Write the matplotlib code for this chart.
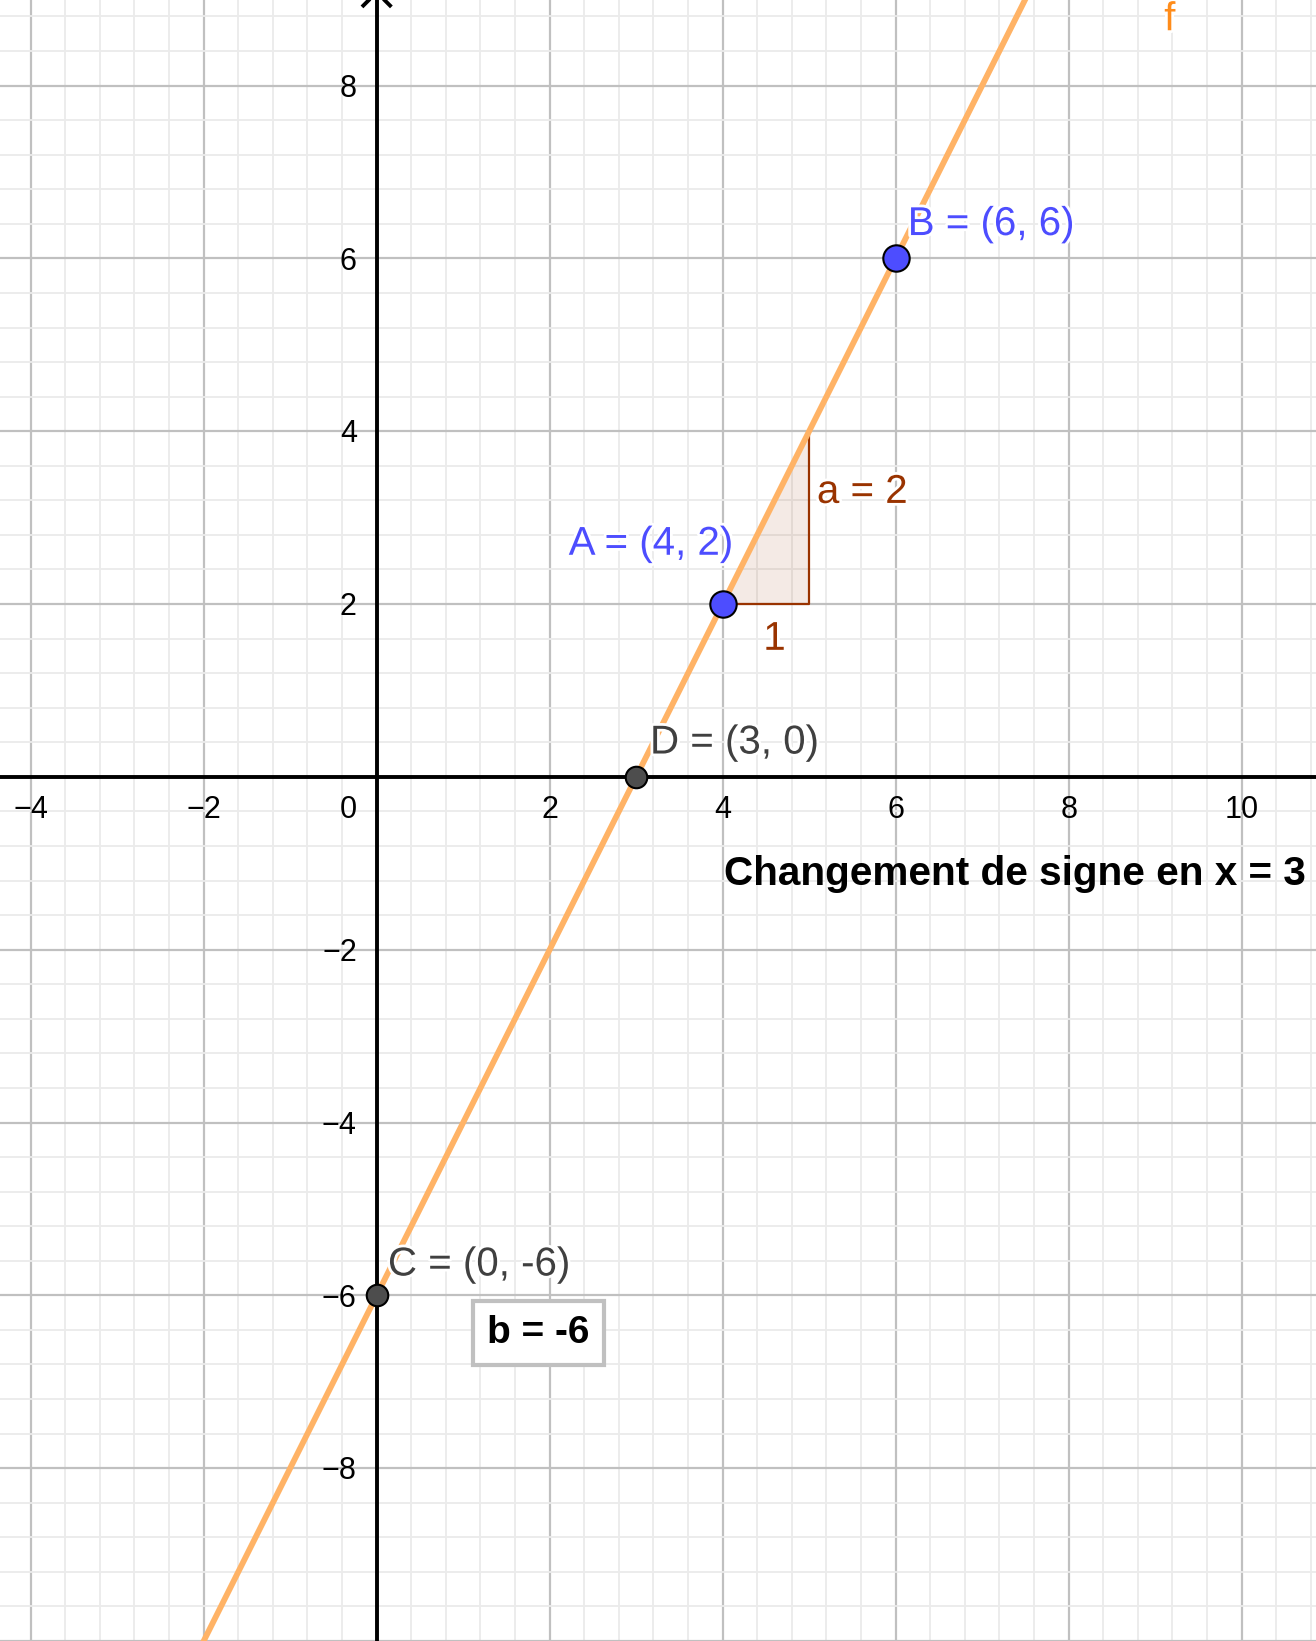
import numpy as np
import matplotlib
matplotlib.use("Agg")
import matplotlib.pyplot as plt
import matplotlib.patheffects as pe
from matplotlib.ticker import MultipleLocator

plt.rcParams['font.family'] = ['Liberation Sans', 'DejaVu Sans']

# function f(x) = a*x + b
slope_a = 2
intercept_b = -6

# named points
point_names = ["A", "B", "C", "D"]
point_x = [4, 6, 0, 3]
point_y = [2, 6, -6, 0]

# tick labels
x_ticks = [-4, -2, 0, 2, 4, 6, 8, 10]
y_ticks = [-8, -6, -4, -2, 2, 4, 6, 8]

# view window
x_min, x_max = -4.355, 10.86
y_min, y_max = -10.0, 8.99

blue = '#4D4DFF'
gray_pt = '#4D4D4D'
brown = '#993300'
orange_line = '#FFB366'
orange_txt = '#FF8C1A'

fig = plt.figure(figsize=(13.16, 16.41), dpi=100)
ax = fig.add_axes([0, 0, 1, 1])
ax.set_xlim(x_min, x_max)
ax.set_ylim(y_min, y_max)
ax.set_aspect('auto')

# grid
ax.xaxis.set_major_locator(MultipleLocator(2))
ax.yaxis.set_major_locator(MultipleLocator(2))
ax.xaxis.set_minor_locator(MultipleLocator(0.4))
ax.yaxis.set_minor_locator(MultipleLocator(0.4))
ax.grid(which='minor', color='#EBEBEB', linewidth=1.3, zorder=0)
ax.grid(which='major', color='#C0C0C0', linewidth=1.6, zorder=0)
ax.tick_params(which='both', length=0, labelbottom=False, labelleft=False)
ax.set_axisbelow(True)
for s in ax.spines.values():
    s.set_visible(False)

# axes
ax.axhline(0, color='black', linewidth=2.8, zorder=2)
ax.axvline(0, color='black', linewidth=2.8, zorder=2)
# arrow head of y axis (partly out of view)
ax.plot([-0.17, 0, 0.17], [y_max - 0.08, y_max + 0.09, y_max - 0.08],
        color='black', linewidth=2.8, solid_capstyle='butt', zorder=2, clip_on=False)

# tick labels
for t in x_ticks:
    if t == 0:
        ax.text(-0.23, -0.48, "0", ha='right', va='baseline', fontsize=22)
    else:
        ax.text(t, -0.48, str(t).replace('-', '\u2212'), ha='center', va='baseline', fontsize=22)
for t in y_ticks:
    ax.text(-0.23, t - 0.13, str(t).replace('-', '\u2212'), ha='right', va='baseline', fontsize=22)

halo = [pe.withStroke(linewidth=4, foreground='white')]

# slope triangle from A
ax_, ay_ = point_x[0], point_y[0]
tri_x = [ax_, ax_ + 1, ax_ + 1]
tri_y = [ay_, ay_, ay_ + slope_a]
ax.fill(tri_x, tri_y, color=brown, alpha=0.1, linewidth=0, zorder=3)
ax.plot(tri_x, tri_y, color=brown, linewidth=1.6, zorder=3)
ax.plot([tri_x[2], tri_x[0]], [tri_y[2], tri_y[0]], color=brown, linewidth=1.6, zorder=3)

# line f
xs = np.array([x_min, x_max])
ax.plot(xs, slope_a * xs + intercept_b, color=orange_line, linewidth=4.2, zorder=4)

# points
for name, px, py in zip(point_names, point_x, point_y):
    if name in ("A", "B"):
        ax.plot(px, py, 'o', markersize=19, markerfacecolor=blue,
                markeredgecolor='black', markeredgewidth=1.5, zorder=6)
    else:
        ax.plot(px, py, 'o', markersize=15.5, markerfacecolor=gray_pt,
                markeredgecolor='black', markeredgewidth=1.5, zorder=6)

# point labels
label_pos = {"A": (2.22, 2.57), "B": (6.14, 6.27), "C": (0.13, -5.77), "D": (3.16, 0.27)}
for name, px, py in zip(point_names, point_x, point_y):
    col = blue if name in ("A", "B") else '#404040'
    lx, ly = label_pos[name]
    ax.text(lx, ly, f"{name} = ({px}, {py})", color=col, fontsize=29,
            ha='left', va='baseline', path_effects=halo, zorder=7)

# slope labels
ax.text(5.09, 3.17, f"a = {slope_a}", color=brown, fontsize=29, ha='left',
        va='baseline', path_effects=halo, zorder=7)
ax.text(4.60, 1.47, "1", color=brown, fontsize=29, ha='center',
        va='baseline', path_effects=halo, zorder=7)

# f label
ax.text(9.17, 8.64, "f", color=orange_txt, fontsize=29, ha='center', va='baseline',
        path_effects=halo, zorder=7)

# sign change text
ax.text(4.02, -1.25, "Changement de signe en x = 3", color='black', fontsize=29.2,
        fontweight='bold', ha='left', va='baseline', zorder=7)

# b box
ax.text(1.87, -6.43, f"b = {intercept_b}", color='black', fontsize=28,
        fontweight='bold', ha='center', va='center', zorder=7,
        bbox=dict(boxstyle='square,pad=0.36', facecolor='white',
                  edgecolor='#C0C0C0', linewidth=3))

fig.savefig("out.png", dpi=100)
